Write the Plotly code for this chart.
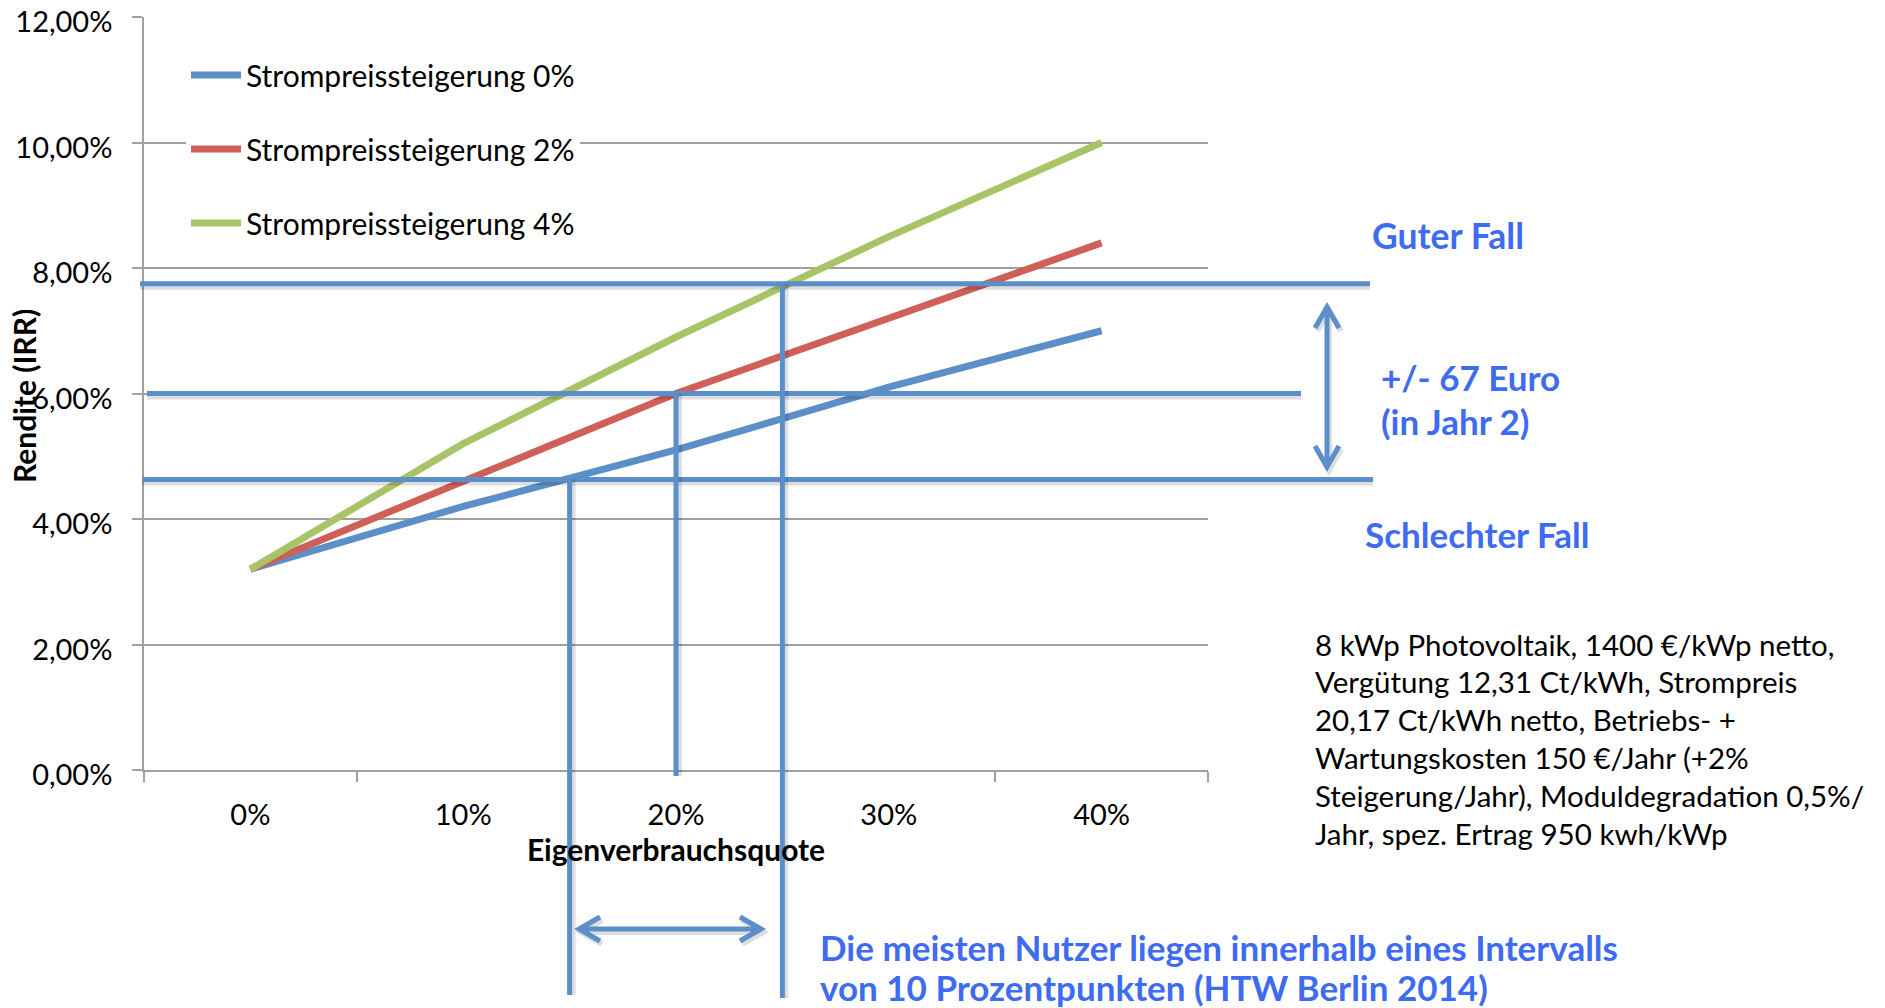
import plotly.graph_objects as go

# --- data -------------------------------------------------------------
categories = ["0%", "10%", "20%", "30%", "40%"]          # Eigenverbrauchsquote
rendite_0 = [3.2, 4.2, 5.1, 6.1, 7.0]                   # Strompreissteigerung 0%
rendite_2 = [3.2, 4.6, 6.0, 7.2, 8.4]                   # Strompreissteigerung 2%
rendite_4 = [3.2, 5.2, 6.9, 8.5, 10.0]                  # Strompreissteigerung 4%
series_names = ["Strompreissteigerung 0%", "Strompreissteigerung 2%", "Strompreissteigerung 4%"]
y_ticks = [0, 2, 4, 6, 8, 10, 12]
y_tick_labels = ["0,00%", "2,00%", "4,00%", "6,00%", "8,00%", "10,00%", "12,00%"]

# scenario levels of the Rendite (in %)
level_good = 7.75     # Guter Fall
level_mid = 6.0
level_bad = 4.63      # Schlechter Fall
# Eigenverbrauch markers (category index: 1.5 = 15 %, 2 = 20 %, 2.5 = 25 %)
quote_low = 1.5
quote_mid = 2.0
quote_high = 2.5

note_lines = [
    "8 kWp Photovoltaik, 1400 €/kWp netto,",
    "Vergütung 12,31 Ct/kWh, Strompreis",
    "20,17 Ct/kWh netto, Betriebs- +",
    "Wartungskosten 150 €/Jahr (+2%",
    "Steigerung/Jahr), Moduldegradation 0,5%/",
    "Jahr, spez. Ertrag 950 kwh/kWp",
]
bottom_lines = [
    "Die meisten Nutzer liegen innerhalb eines Intervalls",
    "von 10 Prozentpunkten (HTW Berlin 2014)",
]

# --- styling ----------------------------------------------------------
FONT = "Lato, 'Open Sans', sans-serif"
LINE_COLORS = ["#5B8FC9", "#CE5F59", "#A7C466"]
MARK_BLUE = "#5B8FC9"
SHADOW = "rgba(0,0,0,0.13)"
TEXT_BLUE = "#3D6BF2"
GRID = "#A0A0A0"

W, H = 1885, 1008
L, R, T, B = 144, 1208, 17, 770      # plot area in pixels
Y_RANGE = [0, 12]


def px_x(px):
    return (px - L) / (R - L)


def px_y(py):
    return (B - py) / (B - T)


def data_to_paper_y(v):
    return (v - Y_RANGE[0]) / (Y_RANGE[1] - Y_RANGE[0])


fig = go.Figure()
for name, vals, col in zip(series_names, [rendite_0, rendite_2, rendite_4], LINE_COLORS):
    fig.add_trace(go.Scatter(
        x=categories, y=vals, name=name, mode="lines",
        line=dict(color=col, width=7), legendgroup=name,
    ))

shapes = []

# horizontal scenario lines (extend beyond the plot to the right)
for lvl, x0, x1 in [(level_good, 140, 1370), (level_mid, 147, 1301), (level_bad, 142, 1373)]:
    shapes.append(dict(type="line", xref="paper", yref="y", x0=px_x(x0), x1=px_x(x1),
                       ysizemode="pixel", yanchor=lvl, y0=-3, y1=-3,
                       line=dict(color=SHADOW, width=6)))
    shapes.append(dict(type="line", xref="paper", yref="y", x0=px_x(x0), x1=px_x(x1),
                       y0=lvl, y1=lvl, line=dict(color=MARK_BLUE, width=5)))

# vertical Eigenverbrauch markers (reach below the axis)
for q, lvl, bottom in [(quote_low, level_bad, 995), (quote_mid, level_mid, 776), (quote_high, level_good, 998)]:
    shapes.append(dict(type="line", xref="x", yref="paper",
                       xsizemode="pixel", xanchor=q, x0=3, x1=3,
                       y0=data_to_paper_y(lvl), y1=px_y(bottom),
                       line=dict(color=SHADOW, width=6)))
    shapes.append(dict(type="line", xref="x", yref="paper", x0=q, x1=q,
                       y0=data_to_paper_y(lvl), y1=px_y(bottom),
                       line=dict(color=MARK_BLUE, width=5)))


def double_arrow(p0, p1, head_len=21, head_half=12):
    (xa, ya), (xb, yb) = p0, p1
    dx, dy = xb - xa, yb - ya
    n = (dx * dx + dy * dy) ** 0.5
    ux, uy = dx / n, dy / n
    vx, vy = -uy, ux
    pts = [f"M{px_x(xa)},{px_y(ya)} L{px_x(xb)},{px_y(yb)}"]
    for (tx, ty), s in [((xa, ya), 1), ((xb, yb), -1)]:
        bx, by = tx + s * ux * head_len, ty + s * uy * head_len
        pts.append(f"M{px_x(bx + vx * head_half)},{px_y(by + vy * head_half)} "
                   f"L{px_x(tx)},{px_y(ty)} "
                   f"L{px_x(bx - vx * head_half)},{px_y(by - vy * head_half)}")
    return " ".join(pts)


for path_pts in [((1327, 307), (1327, 467)), ((579, 929), (761, 929))]:
    shifted = tuple((x + 2, y + 3) for x, y in path_pts)
    shapes.append(dict(type="path", xref="paper", yref="paper",
                       path=double_arrow(*shifted), line=dict(color=SHADOW, width=6)))
    shapes.append(dict(type="path", xref="paper", yref="paper",
                       path=double_arrow(*path_pts), line=dict(color=MARK_BLUE, width=5)))

annotations = []


def label(text, x, y, size, color="black", bold=False, **kw):
    annotations.append(dict(
        text=text, xref="paper", yref="paper", x=px_x(x), y=px_y(y),
        xanchor=kw.pop("xanchor", "left"), yanchor="middle", showarrow=False,
        font=dict(family=FONT, size=size, color=color, weight="bold" if bold else "normal"),
        **kw))


label("Guter Fall", 1370, 236, 35.5, TEXT_BLUE, True)
label("+/- 67 Euro", 1379, 377, 35, TEXT_BLUE, True)
label("(in Jahr 2)", 1379, 421, 35, TEXT_BLUE, True)
label("Schlechter Fall", 1363, 534, 35, TEXT_BLUE, True)
for i, line in enumerate(note_lines):
    label(line, 1313, 644 + i * 37.8, 29.5)
for i, line in enumerate(bottom_lines):
    label(line, 818, 947 + i * 40, 35, TEXT_BLUE, True)
label("Rendite (IRR)", 24, 396, 30, bold=True, xanchor="center", textangle=-90)

fig.update_layout(
    width=W, height=H,
    margin=dict(l=L, r=W - R, t=T, b=H - B, autoexpand=False),
    paper_bgcolor="white", plot_bgcolor="white",
    font=dict(family=FONT, size=29, color="black"),
    showlegend=True,
    legend=dict(x=px_x(186), y=px_y(149), xanchor="left", yanchor="middle",
                bgcolor="white", font=dict(family=FONT, size=30, color="black"),
                itemwidth=50, tracegroupgap=32, traceorder="grouped"),
    xaxis=dict(type="category", range=[-0.5, 4.5], tickson="boundaries",
               ticks="outside", ticklen=10, tickwidth=1.5, tickcolor=GRID,
               showline=True, linecolor=GRID, linewidth=1.5, showgrid=False,
               ticklabelstandoff=18,
               tickfont=dict(family=FONT, size=29, color="black"),
               title=dict(text="Eigenverbrauchsquote", standoff=10,
                          font=dict(family=FONT, size=30, color="black", weight="bold"))),
    yaxis=dict(range=Y_RANGE, tickvals=y_ticks, ticktext=y_tick_labels,
               ticks="outside", ticklen=10, tickwidth=1.5, tickcolor=GRID,
               showline=True, linecolor=GRID, linewidth=1.5,
               showgrid=True, gridcolor=GRID, gridwidth=1.5, zeroline=False,
               ticklabelstandoff=14, ticklabelshift=5, ticklabeloverflow="allow",
               tickfont=dict(family=FONT, size=29, color="black")),
    shapes=shapes, annotations=annotations,
)

fig.write_html("out.html")
